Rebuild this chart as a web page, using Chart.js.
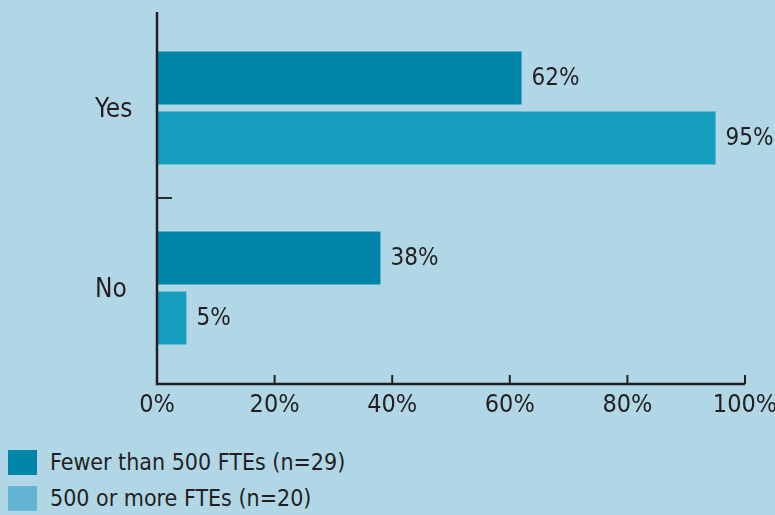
<!DOCTYPE html>
<html>
<head>
  <meta charset="utf-8">
  <title>Yes / No by organisation size</title>
  <script src="https://cdn.jsdelivr.net/npm/chart.js"></script>
  <style>
    html, body { margin: 0; padding: 0; background: #b1d7e6; }
    body { width: 775px; height: 515px; overflow: hidden; font-family: 'Liberation Sans Narrow', 'DejaVu Sans Condensed', 'Liberation Sans', sans-serif; color: #231f20; }
    #wrap { position: relative; width: 775px; height: 432px; }
    #legend { position: absolute; left: 8px; top: 444px; }
    .item { display: flex; align-items: center; height: 36px; font-size: 23px; }
    .box { width: 29px; height: 25px; margin-right: 13px; }
  </style>
</head>
<body>
  <div id="wrap"><canvas id="grafico" width="775" height="432"></canvas></div>
  <div id="legend"></div>

  <script>
    const categorias = ['Yes', 'No'];
    const menos500 = [62, 38];
    const mais500 = [95, 5];
    const ticksX = [0, 20, 40, 60, 80, 100];
    const series = [
      { nome: 'Fewer than 500 FTEs (n=29)', cor: '#0085a8', corLegenda: '#0086a8' },
      { nome: '500 or more FTEs (n=20)', cor: '#169ec0', corLegenda: '#62b4d2' }
    ];

    const fonte = "'Liberation Sans Narrow', 'DejaVu Sans Condensed', 'Liberation Sans', sans-serif";
    const corTexto = '#231f20';
    const extra = 6; // o eixo passa um pouco além da área das categorias

    // eixos desenhados a mão, com ticks para dentro
    const eixos = {
      id: 'eixos',
      afterDatasetsDraw(chart) {
        const ctx = chart.ctx;
        const x = chart.scales.x, y = chart.scales.y;
        const a = chart.chartArea;
        const base = a.bottom + extra;
        ctx.save();
        ctx.strokeStyle = '#231f20';
        ctx.lineWidth = 2.5;
        ctx.beginPath();
        ctx.moveTo(a.left, a.top - extra);
        ctx.lineTo(a.left, base);
        ctx.lineTo(x.getPixelForValue(100), base);
        ctx.stroke();
        ctx.lineWidth = 2;
        ticksX.forEach(v => {
          if (v === 0) return;
          const px = x.getPixelForValue(v);
          ctx.beginPath();
          ctx.moveTo(px, base);
          ctx.lineTo(px, base - 9);
          ctx.stroke();
        });
        // separador entre categorias
        const meio = (y.getPixelForValue(0) + y.getPixelForValue(1)) / 2;
        ctx.strokeStyle = '#2b2b2b';
        ctx.beginPath();
        ctx.moveTo(a.left, meio);
        ctx.lineTo(a.left + 15, meio);
        ctx.stroke();

        // rótulos dos valores
        ctx.fillStyle = corTexto;
        ctx.font = '24px ' + fonte;
        ctx.textBaseline = 'middle';
        ctx.textAlign = 'left';
        chart.data.datasets.forEach((ds, i) => {
          chart.getDatasetMeta(i).data.forEach((bar, j) => {
            ctx.fillText(ds.data[j] + '%', bar.x + 10, bar.y + 1);
          });
        });
        ctx.restore();
      }
    };

    new Chart(document.getElementById('grafico'), {
      type: 'bar',
      data: {
        labels: categorias,
        datasets: series.map((s, i) => ({
          label: s.nome,
          data: i === 0 ? menos500 : mais500,
          backgroundColor: s.cor,
          borderWidth: 0,
          categoryPercentage: 0.667,
          barPercentage: 0.885
        }))
      },
      options: {
        indexAxis: 'y',
        responsive: false,
        animation: false,
        layout: { padding: { left: 95, right: 30, top: 18, bottom: 4 } },
        plugins: { legend: { display: false }, tooltip: { enabled: false } },
        scales: {
          x: {
            min: 0,
            max: 100,
            afterBuildTicks: s => { s.ticks = ticksX.map(v => ({ value: v })); },
            grid: { display: false, drawTicks: false },
            border: { display: false },
            ticks: {
              padding: 12,
              color: corTexto,
              font: { family: fonte, size: 25 },
              callback: v => v + '%'
            },
            afterFit: s => { s.height = 50; s.paddingLeft = 0; s.paddingRight = 0; }
          },
          y: {
            grid: { display: false, drawTicks: false },
            border: { display: false },
            ticks: {
              crossAlign: 'far',
              labelOffset: 2,
              color: corTexto,
              font: { family: fonte, size: 26 }
            },
            afterFit: s => { s.width = 62; s.paddingTop = 0; s.paddingBottom = 0; }
          }
        }
      },
      plugins: [eixos]
    });

    document.getElementById('legend').innerHTML = series.map(s => `
      <div class="item"><div class="box" style="background:${s.corLegenda}"></div>${s.nome}</div>
    `).join('');
  </script>
</body>
</html>
